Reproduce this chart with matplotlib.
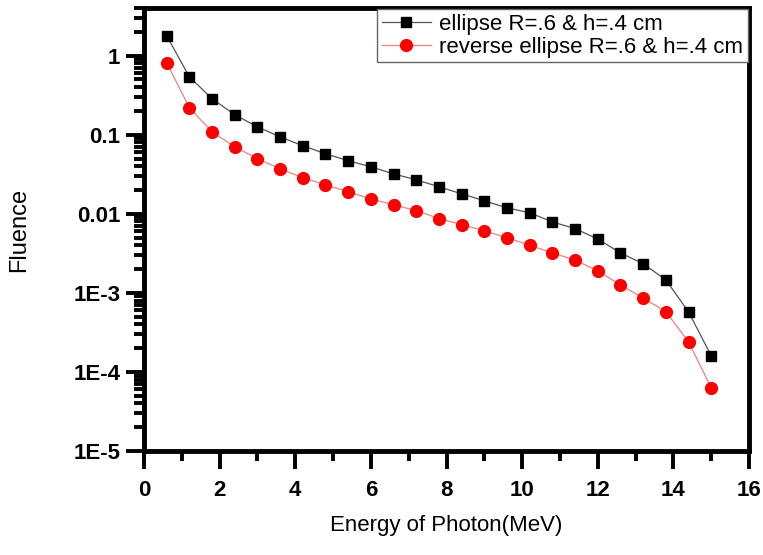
import numpy as np
import matplotlib.pyplot as plt
from matplotlib.ticker import MultipleLocator, LogLocator, NullFormatter

plt.rcParams['font.family'] = ['Liberation Sans', 'DejaVu Sans']

# photon energy (MeV)
energy = [0.6, 1.2, 1.8, 2.4, 3.0, 3.6, 4.2, 4.8, 5.4, 6.0, 6.6, 7.2, 7.8,
          8.4, 9.0, 9.6, 10.2, 10.8, 11.4, 12.0, 12.6, 13.2, 13.8, 14.4, 15.0]

# fluence, ellipse R=.6 h=.4 cm
fluence_ellipse = [1.79, 0.54, 0.286, 0.179, 0.126, 0.094, 0.0726, 0.0575, 0.0469,
                   0.0394, 0.032, 0.0269, 0.022, 0.0179, 0.0146, 0.0119, 0.0103,
                   0.0079, 0.0065, 0.0048, 0.0032, 0.00234, 0.00146, 0.000575, 0.00016]

# fluence, reverse ellipse R=.6 h=.4 cm
fluence_reverse = [0.815, 0.22, 0.109, 0.0705, 0.0497, 0.0371, 0.0286, 0.0233, 0.019,
                   0.0155, 0.013, 0.011, 0.0087, 0.0073, 0.0061, 0.0050, 0.0040,
                   0.0032, 0.0026, 0.0019, 0.00126, 0.00086, 0.00058, 0.00024, 0.000063]

ytick_vals = [1, 0.1, 0.01, 1e-3, 1e-4, 1e-5]
ytick_labels = ['1', '0.1', '0.01', '1E-3', '1E-4', '1E-5']

fig = plt.figure(figsize=(7.63, 5.55), dpi=100)
ax = fig.add_axes([0.1887, 0.1874, 0.793, 0.798])

ax.plot(energy, fluence_ellipse, color='#555555', lw=0.9, marker='s', ms=7.5,
        mfc='black', mec='black', label='ellipse R=.6 & h=.4 cm')
ax.plot(energy, fluence_reverse, color='#ee8080', lw=0.9, marker='o', ms=8.5,
        mfc='red', mec='red', label='reverse ellipse R=.6 & h=.4 cm')

ax.set_yscale('log')
ax.set_xlim(0, 16)
ax.set_ylim(1e-5, 4)
ax.xaxis.set_major_locator(MultipleLocator(2))
ax.xaxis.set_minor_locator(MultipleLocator(1))
ax.set_yticks(ytick_vals)
ax.set_yticklabels(ytick_labels)
ax.yaxis.set_minor_locator(LogLocator(base=10, subs=np.arange(2, 10)))
ax.yaxis.set_minor_formatter(NullFormatter())

for s in ax.spines.values():
    s.set_linewidth(3.5)
ax.tick_params(which='major', direction='out', length=13, width=2.8,
               labelsize=16)
ax.tick_params(axis='x', which='major', pad=8)
ax.tick_params(axis='y', which='major', pad=4)
ax.tick_params(which='minor', direction='out', length=7, width=2.8)
for lab in ax.get_xticklabels() + ax.get_yticklabels():
    lab.set_fontweight('bold')

ax.set_xlabel('Energy of Photon(MeV)', fontsize=16, labelpad=10)
ax.set_ylabel('Fluence', fontsize=17, labelpad=31)

leg = ax.legend(loc='upper right', fontsize=16, frameon=True, fancybox=False,
                edgecolor='#666666', framealpha=1, borderaxespad=0.05,
                borderpad=0.2, labelspacing=0.1, handlelength=2.2,
                handletextpad=0.4)
leg.get_frame().set_linewidth(1)

fig.savefig('out.png', dpi=100)
